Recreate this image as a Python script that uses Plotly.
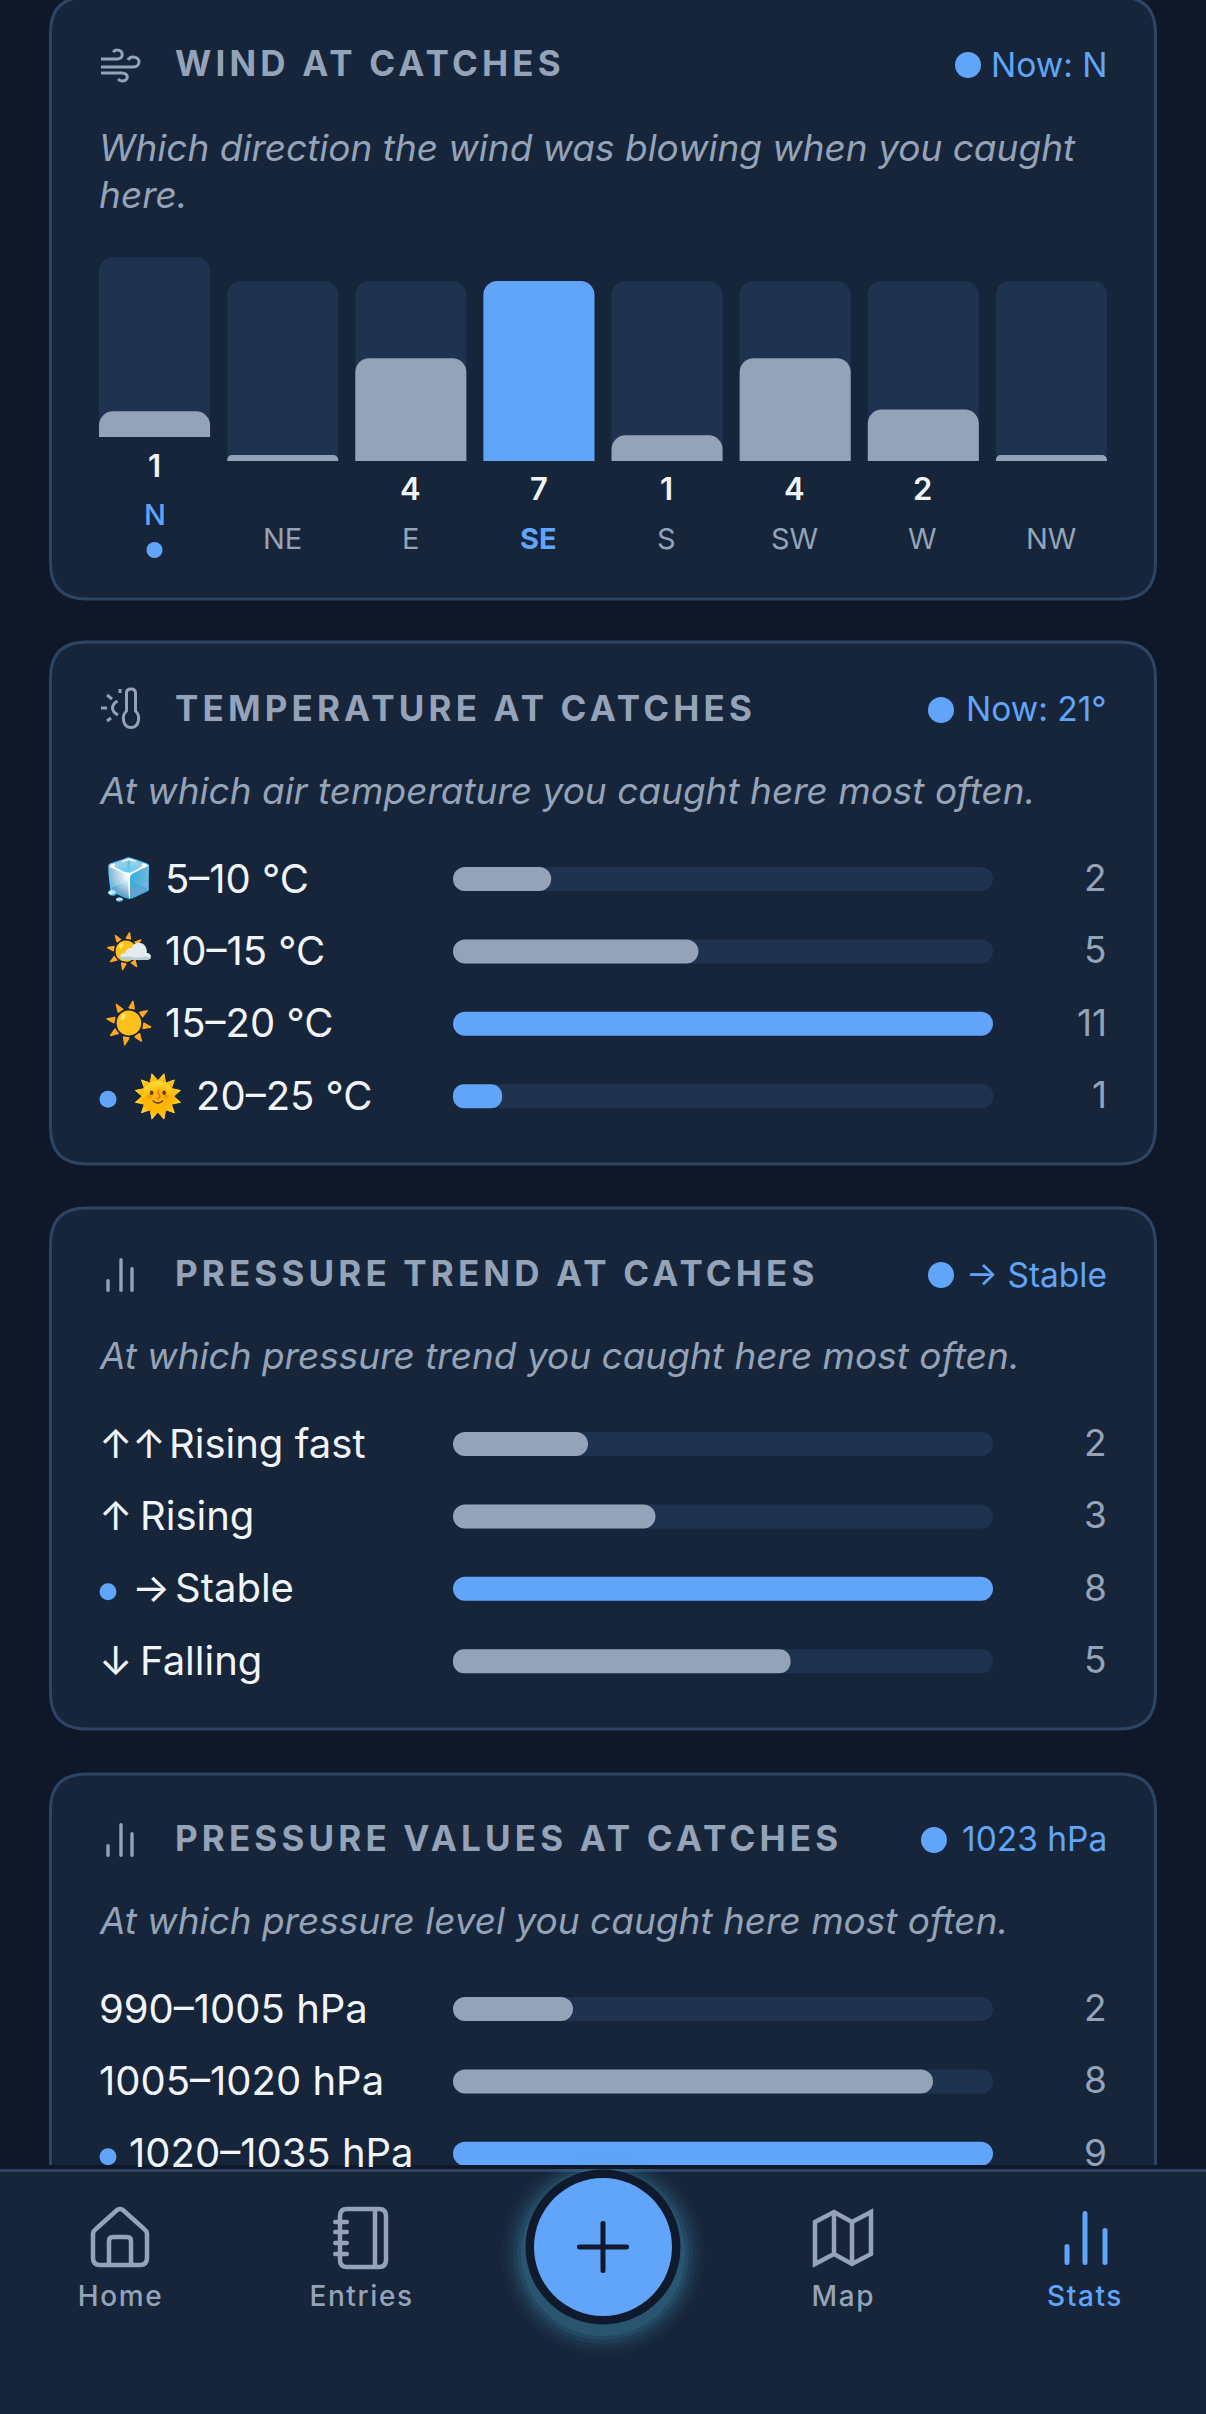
import re
import plotly.graph_objects as go

W, H = 1206, 2414

# Datos
wind_dirs = ["N", "NE", "E", "SE", "S", "SW", "W", "NW"]
wind_counts = [1, 0, 4, 7, 1, 4, 2, 0]

temp_labels = ["🧊 5–10 °C", "🌤️ 10–15 °C", "☀️ 15–20 °C", "🌞 20–25 °C"]
temp_counts = [2, 5, 11, 1]

trend_labels = ["↑↑ Rising fast", "↑ Rising", "→ Stable", "↓ Falling"]
trend_counts = [2, 3, 8, 5]

pressure_labels = ["990–1005 hPa", "1005–1020 hPa", "1020–1035 hPa"]
pressure_counts = [2, 8, 9]

# Colores
BG = "#0e1829"
CARD = "#17253a"
BORDER = "#2d4463"
TRACK = "#1f3350"
GREY = "#94a3b8"
BLUE = "#60a5fa"
WHITE = "#f1f5f9"
RING = "#0f1a2c"
FONT = "Inter"

TITLE_SIZE = 35
NAV_SIZE = 28

shapes_list = []
notes = []


def px(x):
    return x / W


def py(y):
    return 1 - y / H


def to_paper(d):
    # pasa un path en pixeles a coordenadas paper
    nums = iter(range(10 ** 6))

    def conv(m):
        v = float(m.group(0))
        return f"{px(v):.6f}" if next(nums) % 2 == 0 else f"{py(v):.6f}"

    return re.sub(r"-?\d+\.?\d*", conv, d)


def shape_path(d, fill=None, line=None, width=0, layer="below"):
    shapes_list.append(dict(
        type="path", xref="paper", yref="paper", path=to_paper(d), layer=layer,
        fillcolor=fill if fill else "rgba(0,0,0,0)",
        line=dict(color=line if line else "rgba(0,0,0,0)", width=width),
    ))


def rrect(x0, y0, x1, y1, r):
    return (f"M{x0 + r} {y0} L{x1 - r} {y0} Q{x1} {y0} {x1} {y0 + r} L{x1} {y1 - r} Q{x1} {y1} {x1 - r} {y1} "
            f"L{x0 + r} {y1} Q{x0} {y1} {x0} {y1 - r} L{x0} {y0 + r} Q{x0} {y0} {x0 + r} {y0} Z")


def circle(cx, cy, r, fill, layer="below"):
    shapes_list.append(dict(
        type="circle", xref="paper", yref="paper", layer=layer,
        x0=px(cx - r), x1=px(cx + r), y0=py(cy - r), y1=py(cy + r),
        fillcolor=fill, line=dict(color="rgba(0,0,0,0)", width=0),
    ))


def note(text, x, y, size, color, anchor="left", weight=400, italic=False):
    notes.append(dict(
        text=text, x=px(x), y=py(y - 1.5), xref="paper", yref="paper", showarrow=False,
        xanchor=anchor, yanchor="middle", align=anchor, borderpad=0,
        font=dict(family=FONT, size=size, color=color, weight=weight, style="italic" if italic else "normal"),
    ))


def bar_icon(y0, color=GREY):
    for x, top in [(108, 21), (121, 0), (132, 9)]:
        shape_path(rrect(x - 1.7, y0 + top, x + 1.7, y0 + 34, 1.7), fill=color)


def header(title, now, now_left, y, sub, sub_y):
    note(title, 174, y + 1.5, TITLE_SIZE, GREY, weight=700)
    note(now, 1107.5, y + 3, 33.5, BLUE, anchor="right")
    circle(now_left, y + 2, 13, BLUE)
    if isinstance(sub, str):
        sub = [sub]
    for i, s in enumerate(sub):
        note(s, 97.5, sub_y + i * 47.5, 37, GREY, italic=True)


fig = go.Figure()

# Tarjetas
for top, bottom in [(-3, 599), (642, 1164), (1208, 1729), (1774, 2400)]:
    shape_path(rrect(50.5, top, 1155.5, bottom, 36), fill=CARD, line=BORDER, width=3)

# --- Viento: barras verticales ---
MIN_VISIBLE = 0.23
wind_max = max(wind_counts)
wind_fill = [max(v, MIN_VISIBLE) for v in wind_counts]
wind_colors = [BLUE if v == wind_max else GREY for v in wind_counts]
bar_marker = dict(cornerradius=14, line=dict(width=0))

# cada capa va en su propio eje y: plotly solo redondea la barra mas alta de cada subplot
# la columna N va un poco mas arriba porque lleva un punto debajo
fig.add_trace(go.Bar(x=wind_dirs[1:], y=[wind_max] * 7, marker=dict(color=TRACK, **bar_marker),
                     xaxis="x", yaxis="y", hoverinfo="skip"))
fig.add_trace(go.Bar(x=wind_dirs[:1], y=[wind_max], marker=dict(color=TRACK, **bar_marker),
                     xaxis="x", yaxis="y5", hoverinfo="skip"))
fig.add_trace(go.Bar(x=wind_dirs[1:], y=wind_fill[1:], marker=dict(color=wind_colors[1:], **bar_marker),
                     xaxis="x", yaxis="y6", hoverinfo="skip"))
fig.add_trace(go.Bar(x=wind_dirs[:1], y=wind_fill[:1], marker=dict(color=wind_colors[:1], **bar_marker),
                     xaxis="x", yaxis="y7", hoverinfo="skip"))

layout_axes = dict(
    xaxis=dict(domain=[px(90.5), px(1115.5)], range=[-0.5, 7.5], type="category", categoryorder="array",
               categoryarray=wind_dirs, visible=False, fixedrange=True, anchor="y"),
)
for name, top_px, bot_px in [("yaxis", 281, 461), ("yaxis5", 257, 437), ("yaxis6", 281, 461), ("yaxis7", 257, 437)]:
    layout_axes[name] = dict(domain=[py(bot_px), py(top_px)], range=[0, wind_max], visible=False, fixedrange=True, anchor="x")

for i, d in enumerate(wind_dirs):
    lift = 24 if d == "N" else 0
    xa = 154.5 + i * 128
    if wind_counts[i] > 0:
        note(str(wind_counts[i]), xa, 490.5 - lift, 31, WHITE, anchor="center", weight=600)
    if d == "SE":
        note(d, xa, 539.5, 29, BLUE, anchor="center", weight=700)
    elif d == "N":
        note(d, xa, 539.5 - lift, 29, BLUE, anchor="center", weight=500)
        circle(xa, 550, 8, BLUE)
    else:
        note(d, xa, 539.5, 29, GREY, anchor="center")


# --- Barras horizontales ---
def add_rows(n, labels, counts, first_y, pitch, blue, head_x, rest_x, dot=None):
    xname, yname = f"x{n}", f"y{n}"
    vmax = max(counts)
    zeros = [0] * len(counts)
    colors = [BLUE if i in blue else GREY for i in range(len(counts))]
    bar_w = 24 / pitch
    # con base explicita plotly redondea los dos extremos de la barra
    fig.add_trace(go.Bar(y=labels, x=[vmax] * len(counts), base=zeros, orientation="h", width=bar_w,
                         marker=dict(color=TRACK, cornerradius=12, line=dict(width=0)),
                         xaxis=xname, yaxis=yname, hoverinfo="skip"))
    fig.add_trace(go.Bar(y=labels, x=counts, base=zeros, orientation="h", width=bar_w,
                         marker=dict(color=colors, cornerradius=12, line=dict(width=0)),
                         xaxis=xname, yaxis=yname, hoverinfo="skip"))
    top = first_y - pitch / 2
    bottom = first_y + pitch * (len(labels) - 0.5)
    layout_axes[f"xaxis{n}"] = dict(domain=[px(453), px(993)], range=[0, vmax], visible=False, fixedrange=True, anchor=yname)
    layout_axes[f"yaxis{n}"] = dict(domain=[py(bottom), py(top)], type="category", categoryorder="array",
                                    categoryarray=labels, range=[len(labels) - 0.5, -0.5], visible=False,
                                    fixedrange=True, anchor=xname)
    for i, lab in enumerate(labels):
        y = first_y + i * pitch
        if dot == i:
            circle(108, y + 3, 8.5, BLUE)
        # icono/flecha y texto por separado, para ajustar el hueco entre ellos
        if rest_x is None:
            note(lab, head_x[i], y + 0.5, 40, WHITE)
        else:
            head, rest = lab.split(" ", 1)
            note(head, head_x[i], y + 0.5, 40, WHITE)
            note(rest, rest_x[i], y + 0.5, 40, WHITE)
        note(str(counts[i]), 1107.5, y, 37, GREY, anchor="right")


add_rows(2, temp_labels, temp_counts, 879, 72.4, {2, 3}, [103, 103, 103, 132], [163.5, 163.5, 163.5, 195], dot=3)
add_rows(3, trend_labels, trend_counts, 1444, 72.4, {2}, [98, 98, 131, 98], [167.5, 138.5, 173.5, 138.5], dot=2)
add_rows(4, pressure_labels, pressure_counts, 2009, 72.4, {2}, [98, 98, 128], None, dot=2)

# --- Cabeceras ---
header("WIND AT CATCHES", "Now: N", 968, 63, ["Which direction the wind was blowing when you caught", "here."], 149)
header("TEMPERATURE AT CATCHES", "Now: 21°", 941, 708, "At which air temperature you caught here most often.", 792)
header("PRESSURE TREND AT CATCHES", "→ Stable", 941, 1273, "At which pressure trend you caught here most often.", 1357)
header("PRESSURE VALUES AT CATCHES", "1023 hPa", 934, 1838, "At which pressure level you caught here most often.", 1922)

# Iconos de cabecera
shape_path("M101 59 L117 59 C124 59 124 50 117 50 C115 50 114 51 113 52", line=GREY, width=3)
shape_path("M101 67 L133 67 C141 67 141 57 133 57 C131 57 129 58 128 60", line=GREY, width=3)
shape_path("M101 73 L122 73 C129 73 129 81 122 81 C120 81 119 80 118 79", line=GREY, width=3)
shape_path("M126.5 693 Q126.5 689 131 689 Q135.5 689 135.5 693 L135.5 711 C141 716 139 727.5 131 727.5 C123 727.5 121 716 126.5 711 Z",
           line=GREY, width=3)
shape_path("M117.5 701 Q112.5 704 112.5 708 Q112.5 712 118 715", line=GREY, width=3)
for seg in ["M101 708 L107 708", "M107 695 L112 699", "M120 689 L120 693", "M107 721 L111 718"]:
    shape_path(seg, line=GREY, width=3)
bar_icon(1258)
bar_icon(1823)

# --- Barra de navegacion ---
shape_path(f"M0 2169 L{W} 2169 L{W} {H} L0 {H} Z", fill=CARD, layer="above")
shape_path(f"M0 2170.5 L{W} 2170.5", line=BORDER, width=3, layer="above")

for r, a in [(102, 0.03), (98, 0.04), (94, 0.06), (90, 0.08), (86, 0.11), (82, 0.14)]:
    circle(603, 2254, r, f"rgba(75,170,205,{a})", layer="above")
shape_path(f"M0 2165 L{W} 2165 L{W} 2169 L0 2169 Z", fill=BG, layer="above")
circle(603, 2247, 77.5, RING, layer="above")
circle(603, 2247, 69, BLUE, layer="above")
shape_path(rrect(577, 2244.5, 629, 2249.5, 2.5), fill=RING, layer="above")
shape_path(rrect(600.5, 2221, 605.5, 2273, 2.5), fill=RING, layer="above")

# Inicio
shape_path("M93 2234 Q93 2231 96 2229 L117 2210 Q120 2208 123 2210 L144 2229 Q147 2231 147 2234 L147 2258 Q147 2265 140 2265 L100 2265 Q93 2265 93 2258 Z",
           line=GREY, width=4.5, layer="above")
shape_path("M109 2265 L109 2241 Q109 2237 113 2237 L127 2237 Q131 2237 131 2241 L131 2265", line=GREY, width=4.5, layer="above")
# Entradas
shape_path(rrect(340, 2209, 386, 2267, 7), line=GREY, width=4.5, layer="above")
shape_path("M375 2209 L375 2267", line=GREY, width=4.5, layer="above")
for y in [2222, 2232, 2243, 2254]:
    shape_path(rrect(333, y - 2.2, 349, y + 2.2, 2.2), fill=GREY, layer="above")
# Mapa
shape_path("M815 2222 L834 2212 L852 2222 L871 2212 L871 2254 L852 2264 L834 2254 L815 2264 Z", line=GREY, width=4.5, layer="above")
shape_path("M834 2212 L834 2254", line=GREY, width=4.5, layer="above")
shape_path("M852 2222 L852 2264", line=GREY, width=4.5, layer="above")
# Estadisticas
for x, top in [(1067, 2244), (1085, 2211), (1105, 2228)]:
    shape_path(rrect(x - 2.5, top, x + 2.5, 2265, 2.5), fill=BLUE, layer="above")

for lab, x, c in [("Home", 120, GREY), ("Entries", 361, GREY), ("Map", 843, GREY), ("Stats", 1085, BLUE)]:
    note(lab, x, 2297, NAV_SIZE, c, anchor="center", weight=500)

fig.update_layout(
    width=W, height=H, autosize=False, margin=dict(l=0, r=0, t=0, b=0),
    paper_bgcolor=BG, plot_bgcolor="rgba(0,0,0,0)", barmode="overlay", bargap=0.133, showlegend=False,
    shapes=shapes_list, annotations=notes, font=dict(family=FONT), **layout_axes,
)

# Quitar el margen de la pagina y poner el espaciado de letras, que plotly no tiene como atributo
POST = """
document.body.style.margin = '0';
var gd = document.getElementById('{plot_id}');
var spacing = {'%dpx': '4.15px', '%dpx': '1.6px'};
gd.querySelectorAll('.annotation-text').forEach(function (t) {
    var s = spacing[t.style.fontSize];
    if (s) { t.style.letterSpacing = s; }
});
""" % (TITLE_SIZE, NAV_SIZE)

fig.write_html("out.html", post_script=POST, config={"displayModeBar": False})
